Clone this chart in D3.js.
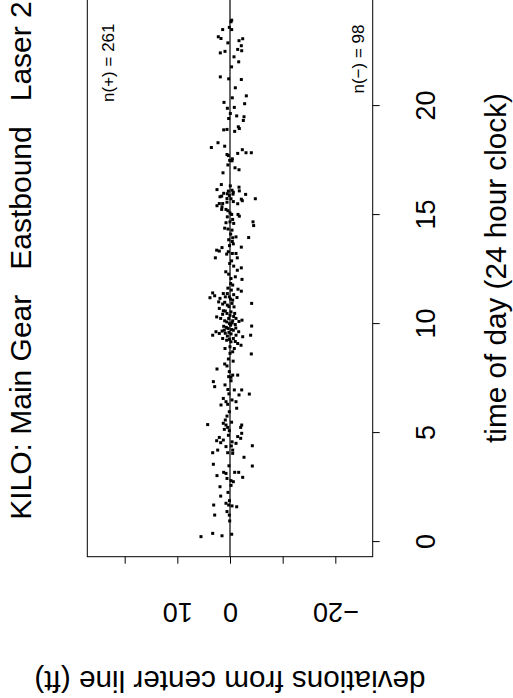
<!DOCTYPE html>
<html>
<head>
<meta charset="utf-8">
<script src="https://cdn.jsdelivr.net/npm/d3@7/dist/d3.min.js"></script>
<style>
  body { margin: 0; background: #fff; }
  text { font-family: "Liberation Sans", Arial, Helvetica, sans-serif; fill: #000; }
</style>
</head>
<body>
<div id="chart"></div>
<script>
// time of day (hours) and deviation from centre line (ft)
var times = [
  23.94, 23.87, 23.61, 23.51, 23.51, 23.18, 23.10, 23.09, 23.00, 22.77,
  22.60, 22.54, 22.44, 22.51, 22.26, 22.03, 21.34, 21.25, 21.22, 20.84,
  20.47, 20.38, 20.17, 20.11, 19.94, 19.66, 19.55, 19.51, 19.43, 19.34,
  19.05, 18.97, 18.91, 18.93, 18.84, 18.32, 18.10, 18.16, 18.00, 17.86,
  17.86, 17.83, 17.78, 17.73, 17.58, 17.51, 17.49, 17.17, 17.08, 16.94,
  16.40, 16.34, 16.17, 16.28, 16.11, 16.10, 16.14, 16.05, 15.98, 15.90,
  15.96, 15.84, 15.87, 15.95, 15.75, 15.73, 15.76, 15.75,
  15.43, 15.53, 15.38, 15.53, 15.59, 15.62, 15.52, 15.66, 15.26, 15.26,
  15.10, 14.92, 15.03, 15.03, 14.95, 14.69, 14.65, 14.62, 14.69, 14.52,
  14.40, 14.36, 14.31, 14.13, 13.96, 14.00, 13.87, 13.97, 13.79, 13.68,
  13.53, 13.51, 13.39, 13.35, 13.04, 13.32, 13.21, 13.24, 13.24, 13.04,
  12.78, 12.66, 12.47, 12.58, 12.29, 12.09, 12.17, 12.05, 11.86, 11.79,
  11.60, 11.51, 11.56, 11.40, 11.40, 11.43, 11.30, 11.21, 11.18, 11.25,
  11.25, 11.10, 11.22, 11.02, 10.92, 10.87, 10.95, 10.79, 10.95, 10.72,
  10.61, 10.49, 10.56, 10.49, 10.33, 10.26, 10.15, 10.26, 10.15, 10.26,
  10.18, 9.91, 9.49, 9.65, 9.57, 9.72, 9.80, 9.95, 9.72, 9.49,
  9.65, 9.42, 9.49, 9.34, 9.26, 9.19, 9.34, 9.11, 9.03, 8.88,
  8.96, 8.88,
  9.62, 9.75, 9.85, 10.02, 10.05, 10.10, 9.55, 9.45, 9.68, 9.90,
  10.40, 10.35, 10.60, 10.80, 11.00, 11.15, 11.35, 11.65, 9.30, 9.20,
  9.98, 10.45, 9.58, 9.82, 10.12,
  8.63, 8.66, 8.73, 8.17, 8.08, 7.94, 7.82, 7.66, 7.66, 7.59,
  7.56, 7.36, 7.13, 7.21, 6.98, 6.98, 6.75, 6.79, 6.59, 6.44,
  6.52, 6.44, 6.29, 6.32, 6.14, 5.98, 5.78, 5.60, 5.39, 5.45,
  5.37, 5.26, 5.37, 5.26, 5.11, 5.17, 4.99, 4.84, 4.76, 4.80,
  4.65, 4.56, 4.68, 4.38, 4.41, 4.53, 4.22, 4.10, 4.22, 4.42,
  4.10, 4.07, 3.89, 3.57, 3.49, 3.20, 3.15, 3.20, 3.20, 3.05,
  2.92, 2.82, 2.97, 2.77, 2.54, 2.28, 2.11, 1.78, 1.70, 1.66,
  1.62, 1.70, 1.24, 1.40, 1.24, 0.97, 0.29, 0.40, 0.36, 0.25,
  4.90, 4.60, 5.50, 6.80, 7.00, 7.40, 8.40, 8.30, 3.50, 2.60,
  1.90, 16.00, 15.20, 14.80, 13.60, 12.90, 12.40, 19.90, 21.80, 22.90,
  17.30
];
var devs = [
  -0.32, -0.19, 0.13, -0.32, 1.39, 2.22, 1.71, -2.41, -1.71, -2.15,
  -1.46, -2.22, 1.84, 0.95, -0.76, -1.65, 1.84, 0.25, -2.15, -1.01,
  -3.10, -0.44, 1.14, -2.78, -0.82, -0.06, -1.27, -2.66, 0.25, -2.53,
  -1.58, -1.77, 1.20, 0.57, -0.89, 2.28, 3.54, 1.01, -2.34, -3.04,
  -4.05, -1.46, 0.57, 0.32, -0.44, 0.06, -0.38, -0.95, -1.71, 1.33,
  1.65, -0.06, 2.47, -1.71, -1.77, 0.32, -0.38, -0.63, 0.51, 0.13,
  -0.57, 1.90, 1.58, -2.97, -4.81, -2.15, 0.57, -0.19,
  2.47, 2.03, 1.52, 1.39, 0.57, -0.63, -1.46, -2.34, 1.58, 0.76,
  0.00, 0.51, -0.32, -1.52, -1.77, 0.00, 0.76, -0.70, -4.37, -4.49,
  1.01, 0.38, -0.38, -0.13, -0.51, -1.14, 0.25, -3.54, -0.44, -0.63,
  -2.15, 1.52, 2.53, 2.03, 2.78, 0.32, 0.63, -0.44, -1.14, -1.39,
  0.06, -0.70, -1.39, -2.15, 0.25, -0.19, -1.01, -2.28, -0.13, -0.51,
  -1.52, -2.15, -0.25, 1.27, 0.51, 3.29, 2.91, 3.80, 1.90, 0.89,
  0.13, -0.51, -1.33, 2.15, 1.39, 0.51, -0.38, -0.76, -4.11, 2.03,
  1.27, 0.57, -0.19, -0.89, 2.53, 1.77, 1.01, 0.25, -0.51, -1.14,
  -2.28, -4.11, 3.29, 2.66, 2.03, 1.08, 0.38, -0.13, -0.63, -1.14,
  -1.65, -2.41, -3.92, 1.39, 0.63, -0.19, -0.63, -1.46, -2.09, 0.95,
  0.00, -0.82,
  0.20, -0.30, 0.70, 0.10, -0.40, 0.60, -0.20, 0.50, 1.50, 1.20,
  0.00, -0.70, 0.90, 0.20, 1.00, -0.10, -0.70, 0.40, 0.10, -1.00,
  -1.00, 1.40, 0.90, -1.10, -1.70,
  -4.05, 0.00, -0.51, 1.01, 0.57, 2.47, 0.13, -0.51, -1.46, 0.25,
  -0.19, 3.16, 2.91, 0.95, -0.82, -2.22, -1.71, -3.67, 1.27, 0.76,
  -0.38, -1.14, 1.71, 0.44, -1.27, 0.13, 0.57, 0.89, 4.24, 1.27,
  0.76, 0.44, -2.22, -2.03, 0.13, 1.08, -2.22, -1.46, -2.03, 2.03,
  2.53, 1.77, 1.27, 0.76, -0.25, -1.14, -0.51, 3.29, 2.34, -4.24,
  0.44, -0.51, -2.66, 3.16, -4.24, 1.20, 0.76, -0.89, -1.65, 2.47,
  0.57, -0.19, -2.41, -0.63, 1.90, 0.38, 1.77, 0.76, 0.25, -0.38,
  -1.27, 3.10, 2.91, 0.57, 0.13, 0.06, 1.52, 3.29, -0.32, 5.51,
  0.30, -0.40, -0.30, 0.20, 0.40, -0.20, 0.30, -0.60, 0.20, -0.20,
  0.10, 1.20, 0.40, -0.50, 0.10, -0.30, 0.80, 0.50, -0.30, 0.40,
  0.40
];
var timeTicks = [0, 5, 10, 15, 20];
var devTicks = [20, 10, 0, -10, -20];
var devTickLabels = ["", "10", "0", "", "\u221220"];
var title = "KILO: Main Gear   Eastbound   Laser 2";
var nPos = "n(+) = 261";
var nNeg = "n(\u2212) = 98";

var W = 513, H = 698;
var svg = d3.select("#chart").append("svg")
  .attr("width", W).attr("height", H)
  .style("display", "block");

// the whole plot is drawn unrotated (698 wide, 513 tall) then turned a quarter left
var g = svg.append("g").attr("transform", "translate(0," + H + ") rotate(-90)");

var x = d3.scaleLinear().domain([-0.67, 26.4]).range([141.3, 141.3 + 27.07 * 21.8]);
var y = d3.scaleLinear().domain([-27.1, 27.1]).range([372.7, 87.3]);

// frame
g.append("rect")
  .attr("x", x(-0.67)).attr("y", y(27.1))
  .attr("width", x(26.4) - x(-0.67)).attr("height", y(-27.1) - y(27.1))
  .attr("fill", "none").attr("stroke", "#000").attr("stroke-width", 1);

// zero line
g.append("line")
  .attr("x1", x(-0.67)).attr("x2", x(26.4))
  .attr("y1", y(0)).attr("y2", y(0))
  .attr("stroke", "#000").attr("stroke-width", 1.2);

// points
g.append("g").selectAll("rect")
  .data(times.map(function(t, i) { return [t, devs[i]]; }))
  .enter().append("rect")
  .attr("x", function(d) { return x(d[0]) - 1.5; })
  .attr("y", function(d) { return y(d[1]) - 1.5; })
  .attr("width", 3).attr("height", 3)
  .attr("fill", "#000");

// time axis
var xa = g.append("g")
  .attr("transform", "translate(0," + y(-27.1) + ")")
  .call(d3.axisBottom(x).tickValues(timeTicks).tickSize(7).tickSizeOuter(0));
xa.select(".domain").remove();
xa.selectAll("line").attr("stroke", "#000");
xa.selectAll("text")
  .attr("y", 435 - y(-27.1)).attr("dy", 0)
  .style("font-size", "27px");

// deviation axis
var ya = g.append("g")
  .attr("transform", "translate(" + x(-0.67) + ",0)")
  .call(d3.axisLeft(y).tickValues(devTicks).tickSize(7).tickSizeOuter(0)
    .tickFormat(function(d, i) { return devTickLabels[i]; }));
ya.select(".domain").remove();
ya.selectAll("line").attr("stroke", "#000");
ya.selectAll("text")
  .attr("x", 0).attr("y", 0).attr("dy", 0)
  .attr("text-anchor", "middle")
  .attr("transform", "translate(" + (95 - x(-0.67)) + ",0) rotate(-90)")
  .style("font-size", "27px");

// labels
g.append("text")
  .attr("x", 437.5).attr("y", 31)
  .attr("text-anchor", "middle")
  .style("white-space", "pre")
  .style("font-size", "30px")
  .text(title);

g.append("text")
  .attr("x", 430).attr("y", 506)
  .attr("text-anchor", "middle")
  .style("font-size", "29.7px")
  .text("time of day (24 hour clock)");

g.append("text")
  .attr("transform", "translate(27," + y(0) + ") rotate(-90)")
  .attr("text-anchor", "middle")
  .style("font-size", "29.7px")
  .text("deviations from center line (ft)");

g.append("text")
  .attr("x", 674.5).attr("y", 114)
  .attr("text-anchor", "end")
  .style("font-size", "17px")
  .text(nPos);

g.append("text")
  .attr("x", 673.5).attr("y", 364)
  .attr("text-anchor", "end")
  .style("font-size", "17px")
  .text(nNeg);
</script>
</body>
</html>
